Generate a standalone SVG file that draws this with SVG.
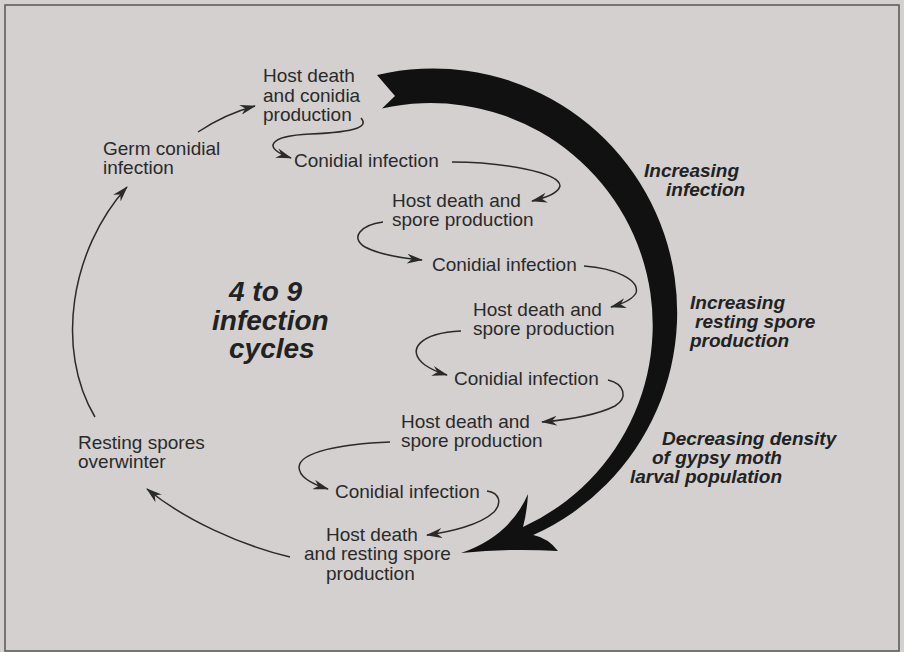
<svg xmlns="http://www.w3.org/2000/svg" width="904" height="652" viewBox="0 0 904 652">
<style>
.t{font-family:"Liberation Sans",Arial,sans-serif;font-size:19px;fill:#2a2a2a}
.bi{font-family:"Liberation Sans",Arial,sans-serif;font-size:19px;font-weight:bold;font-style:italic;fill:#222}
.big{font-family:"Liberation Sans",Arial,sans-serif;font-size:28px;font-weight:bold;font-style:italic;fill:#222}
.c{fill:none;stroke:#2a2a2a;stroke-width:1.5;marker-end:url(#ah)}
</style>
<defs>
<marker id="ah" viewBox="0 0 16 10" refX="15" refY="5" markerWidth="16" markerHeight="10" markerUnits="userSpaceOnUse" orient="auto">
<path d="M0,0 L16,5 L0,10 L5,5 z" fill="#2a2a2a"/>
</marker>
</defs>
<rect x="0" y="0" width="904" height="652" fill="#d3d0cf"/>
<rect x="5" y="5" width="894" height="646" fill="#d3d0cf" stroke="#555" stroke-width="1.5"/>

<g id="trend-arrow">
<path d="M377,75 A244,244 0 0 1 533.2,535 Q548,538 558,551 Q510,548 461,553 Q510,536 528,494 Q527,512 523,527 A222,222 0 0 0 382,108.5 L395,96 Z" fill="#111"/>
</g>

<g id="connectors">
<path class="c" d="M198,132 Q225,114 255,106"/>
<path class="c" d="M361,118 C368,126 360,132 310,134 C268,136 262,148 291,158"/>
<path class="c" d="M452,162 C500,162 560,172 560,186 C558,194 545,198 532,201"/>
<path class="c" d="M383,222 C360,225 350,238 365,247 C380,255 400,258 422,260"/>
<path class="c" d="M584,266 C615,268 640,280 636,293 C632,300 622,304 611,307"/>
<path class="c" d="M461,331 C420,333 405,350 425,365 C432,370 440,373 447,375"/>
<path class="c" d="M608,380 C625,384 628,398 615,406 C595,416 565,420 542,422"/>
<path class="c" d="M390,442 C340,444 300,452 299,467 C299,478 315,485 328,489"/>
<path class="c" d="M487,491 C500,493 502,503 494,512 C480,525 450,532 427,535"/>
<path class="c" d="M290,557 C240,545 185,520 147,489"/>
<path class="c" d="M95,417 C55,350 70,250 127,187"/>
</g>

<g id="host-death-conidia">
<text class="t"><tspan x="263" y="82">Host death</tspan><tspan x="263" y="101.5">and conidia</tspan><tspan x="263" y="121">production</tspan></text>
</g>
<g id="germ-conidial-infection">
<text class="t"><tspan x="103" y="155">Germ conidial</tspan><tspan x="103" y="174">infection</tspan></text>
</g>
<g id="conidial-infection-1"><text class="t" x="294" y="167">Conidial infection</text></g>
<g id="host-death-spore-1">
<text class="t"><tspan x="392" y="206.5">Host death and</tspan><tspan x="392" y="225.5">spore production</tspan></text>
</g>
<g id="conidial-infection-2"><text class="t" x="432" y="271">Conidial infection</text></g>
<g id="host-death-spore-2">
<text class="t"><tspan x="473" y="316">Host death and</tspan><tspan x="473" y="335">spore production</tspan></text>
</g>
<g id="conidial-infection-3"><text class="t" x="454" y="385">Conidial infection</text></g>
<g id="host-death-spore-3">
<text class="t"><tspan x="401" y="428">Host death and</tspan><tspan x="401" y="447">spore production</tspan></text>
</g>
<g id="conidial-infection-4"><text class="t" x="335" y="497.5">Conidial infection</text></g>
<g id="host-death-resting">
<text class="t"><tspan x="326" y="540.5">Host death</tspan><tspan x="304" y="560">and resting spore</tspan><tspan x="326" y="579.5">production</tspan></text>
</g>
<g id="resting-spores">
<text class="t"><tspan x="78" y="449">Resting spores</tspan><tspan x="78" y="468">overwinter</tspan></text>
</g>
<g id="cycles-label">
<text class="big"><tspan x="229" y="301">4 to 9</tspan><tspan x="212" y="330">infection</tspan><tspan x="229" y="358">cycles</tspan></text>
</g>
<g id="increasing-infection">
<text class="bi"><tspan x="644" y="176.5">Increasing</tspan><tspan x="666" y="195.5">infection</tspan></text>
</g>
<g id="increasing-resting">
<text class="bi"><tspan x="690" y="309">Increasing</tspan><tspan x="695" y="328">resting spore</tspan><tspan x="690" y="347">production</tspan></text>
</g>
<g id="decreasing-density">
<text class="bi"><tspan x="662" y="444.5">Decreasing density</tspan><tspan x="652" y="463.5">of gypsy moth</tspan><tspan x="630" y="482.5">larval population</tspan></text>
</g>
</svg>
